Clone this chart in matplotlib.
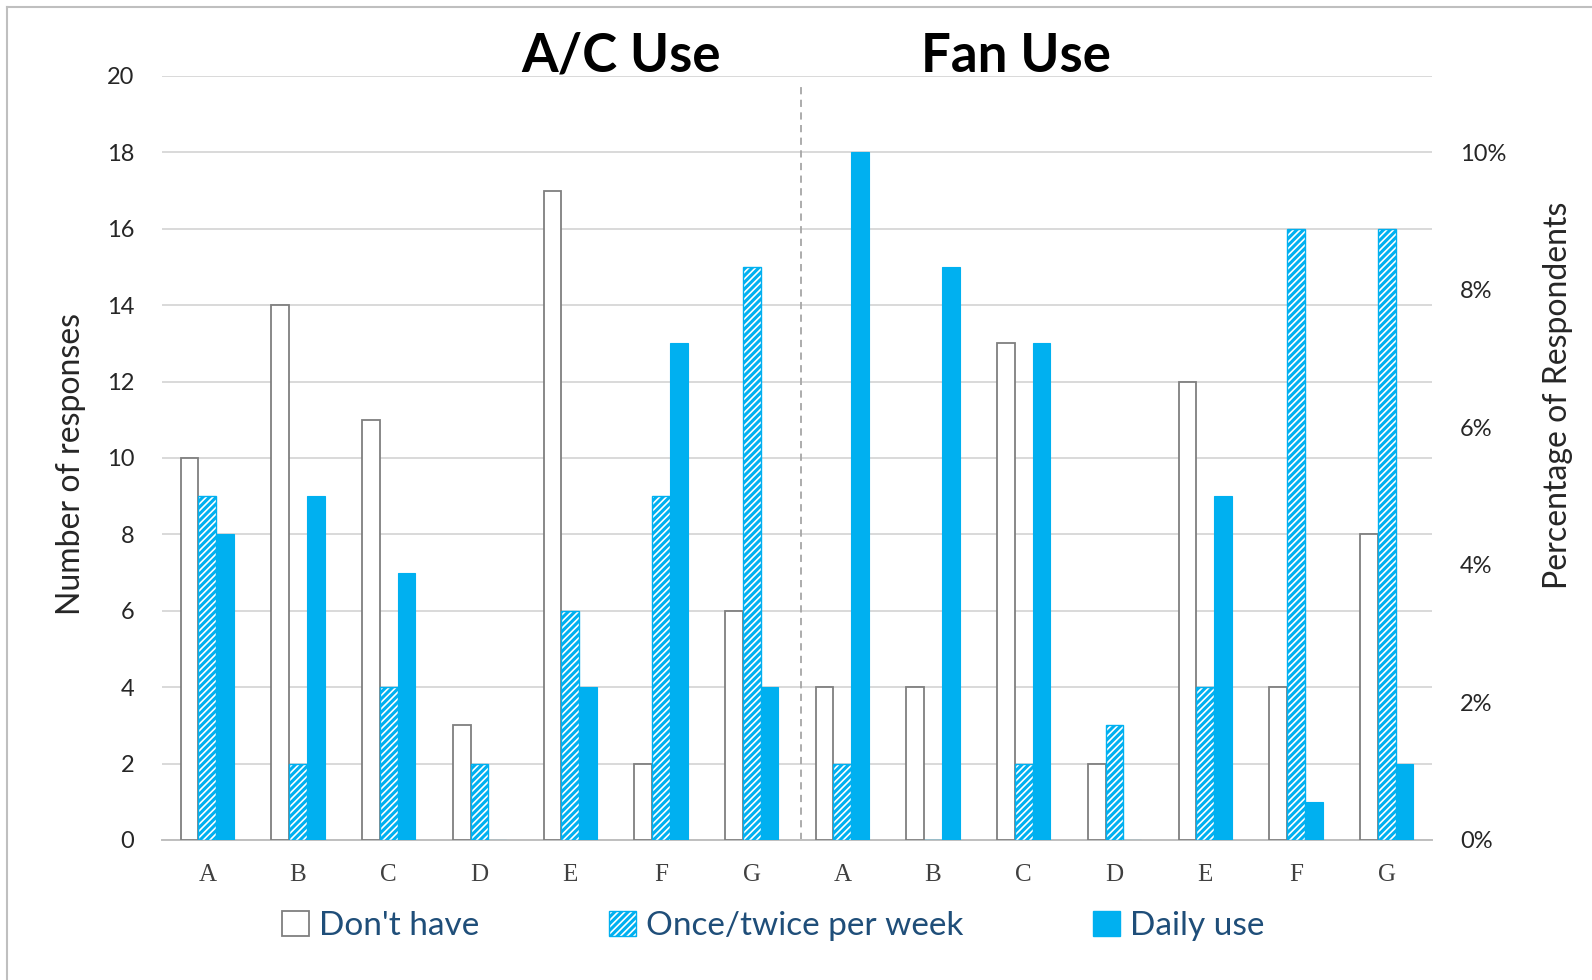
import numpy as np
import matplotlib.pyplot as plt
from matplotlib.patches import Patch
from matplotlib.lines import Line2D

plt.rcParams['font.family'] = ['Lato', 'DejaVu Sans']
plt.rcParams['hatch.linewidth'] = 2.2
plt.rcParams['hatch.color'] = '#00B0F0'

# Survey responses, A/C block then Fan block
categories = ["A", "B", "C", "D", "E", "F", "G"]
ac_dont_have = [10, 14, 11, 3, 17, 2, 6]
ac_once_twice = [9, 2, 4, 2, 6, 9, 15]
ac_daily = [8, 9, 7, 0, 4, 13, 4]
fan_dont_have = [4, 4, 13, 2, 12, 4, 8]
fan_once_twice = [2, 0, 2, 3, 4, 16, 16]
fan_daily = [18, 15, 13, 0, 9, 1, 2]

labels = categories + categories
dont_have = ac_dont_have + fan_dont_have
once_twice = ac_once_twice + fan_once_twice
daily = ac_daily + fan_daily

blue = "#00B0F0"
grey_edge = "#7F7F7F"
text_col = "#262626"
legend_col = "#1F4E79"

W, H = 1592, 980
fig = plt.figure(figsize=(W / 100, H / 100), dpi=100)
ax = fig.add_axes([162 / W, 1 - 840 / H, 1270 / W, 764 / H])

x = np.arange(len(labels))
w = 0.196
ax.bar(x - w, dont_have, w, color="white", edgecolor=grey_edge, linewidth=1.3, zorder=3)
ax.bar(x, once_twice, w, color="white", edgecolor=blue, hatch="/////", linewidth=1.0, zorder=3)
ax.bar(x + w, daily, w, color=blue, edgecolor=blue, linewidth=0.8, zorder=3)

ax.set_xlim(-0.5, len(labels) - 0.5)
ax.set_ylim(0, 20)
ax.set_yticks(range(0, 21, 2))
ax.grid(axis="y", color="#D9D9D9", linewidth=1.4, zorder=0)
ax.set_xticks(x)
ax.set_xticklabels(labels, family="Liberation Serif", fontsize=18, color="#404040")
ax.tick_params(axis="x", length=0, pad=17)
ax.tick_params(axis="y", length=0, pad=20, labelsize=17, labelcolor=text_col)
for side in ["top", "left", "right"]:
    ax.spines[side].set_visible(False)
ax.spines["bottom"].set_color("#BFBFBF")
ax.spines["bottom"].set_linewidth(1.4)

# divider between the two blocks
ax.axvline(6.54, ymin=0, ymax=0.99, color="#A6A6A6", linestyle=(0, (4, 3)), linewidth=1.3, zorder=2)

# secondary percentage scale (18 responses = 10%)
ax2 = ax.twinx()
ax2.set_ylim(0, 20 / 18 * 10)
ax2.set_yticks(range(0, 11, 2))
ax2.set_yticklabels([f"{v}%" for v in range(0, 11, 2)])
ax2.tick_params(axis="y", length=0, pad=20, labelsize=17, labelcolor=text_col)
for side in ["top", "left", "right", "bottom"]:
    ax2.spines[side].set_visible(False)

# axis titles
fig.text(71 / W, 1 - 464 / H, "Number of responses", fontsize=23, color=text_col,
         rotation=90, ha="center", va="center")
fig.text(1558 / W, 1 - 395 / H, "Percentage of Respondents", fontsize=23, color=text_col,
         rotation=90, ha="center", va="center")

# block titles
fig.text(621 / W, 1 - 56 / H, "A/C Use", fontsize=38, fontweight="bold",
         ha="center", va="center", color="black")
fig.text(1016 / W, 1 - 56 / H, "Fan Use", fontsize=38, fontweight="bold",
         ha="center", va="center", color="black")

handles = [
    Patch(facecolor="white", edgecolor=grey_edge, linewidth=1.3),
    Patch(facecolor="white", edgecolor=blue, hatch="/////", linewidth=1.0),
    Patch(facecolor=blue, edgecolor=blue),
]
leg = fig.legend(handles, ["Don't have", "Once/twice per week", "Daily use"],
                 loc="center", bbox_to_anchor=(773 / W, 1 - 926 / H), ncol=3,
                 frameon=False, fontsize=24, handlelength=0.8, handleheight=0.8,
                 handletextpad=0.3, columnspacing=3.9)
for t in leg.get_texts():
    t.set_color(legend_col)

# outer frame lines (left and top)
fig.add_artist(Line2D([7 / W, 7 / W], [0, 1 - 7 / H], color="#BFBFBF", linewidth=1.5))
fig.add_artist(Line2D([7 / W, 1], [1 - 7 / H, 1 - 7 / H], color="#BFBFBF", linewidth=1.5))

fig.savefig("out.png", dpi=100)
